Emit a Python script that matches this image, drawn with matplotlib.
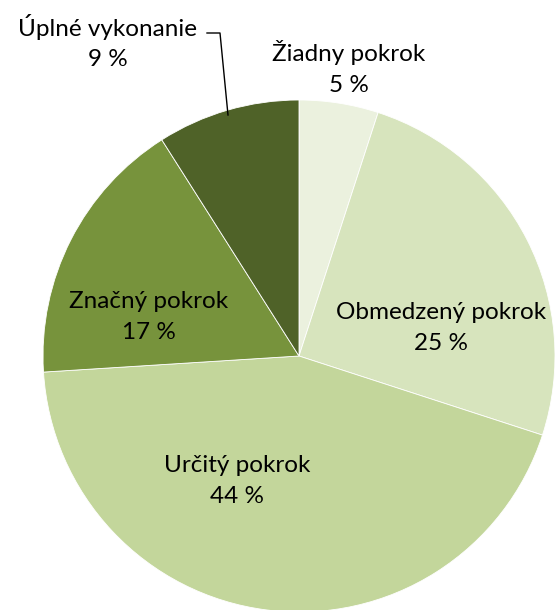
import matplotlib
matplotlib.use("Agg")
import matplotlib.pyplot as plt

labels = ["Žiadny pokrok", "Obmedzený pokrok", "Určitý pokrok", "Značný pokrok", "Úplné vykonanie"]
values = [5, 25, 44, 17, 9]
colors = ["#EBF1DE", "#D7E4BD", "#C3D69B", "#77933C", "#4F6228"]

# label anchor points (pixel coords, y from top)
label_pos = [(349, 68), (441, 328), (237, 481), (149, 317), (108, 42)]

W, H = 555, 610
fig = plt.figure(figsize=(W / 100, H / 100), dpi=100)
ax = fig.add_axes([0, 0, 1, 1])
ax.axis("off")

ax.pie(values, colors=colors, startangle=90, counterclock=False,
       center=(299, H - 356), radius=256,
       wedgeprops=dict(edgecolor="white", linewidth=0.6))
ax.set_xlim(0, W)
ax.set_ylim(0, H)
ax.set_aspect("equal")

for lab, v, (x, y) in zip(labels, values, label_pos):
    ax.text(x, H - y, f"{lab}\n{v} %", ha="center", va="center",
            fontsize=17.5, family="Lato", linespacing=1.55, color="black")

# leader line for the small dark slice
ax.plot([207, 220, 228], [H - 33, H - 33, H - 115], color="black", lw=1)

fig.savefig("out.png", dpi=100)
